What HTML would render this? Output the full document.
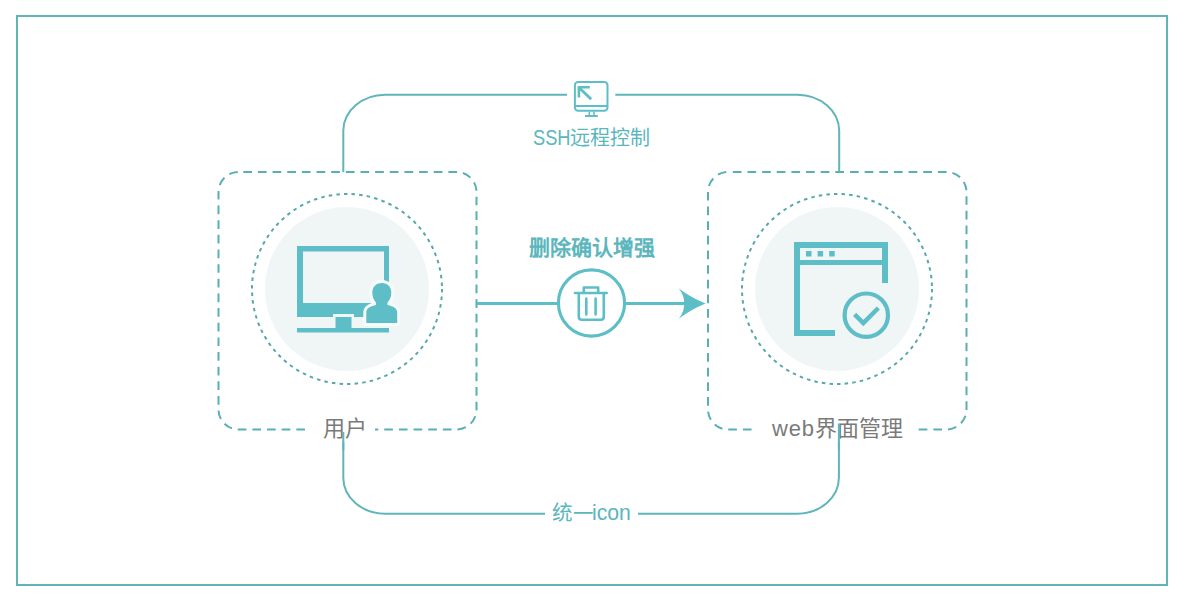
<!DOCTYPE html>
<html lang="zh-CN"><head><meta charset="utf-8">
<style>
html,body{margin:0;padding:0;background:#fff;width:1185px;height:601px;overflow:hidden}
body{font-family:"Liberation Sans",sans-serif}
svg{position:absolute;left:0;top:0}
.t{position:absolute;white-space:nowrap;line-height:1}
</style></head><body>
<svg width="1185" height="601" viewBox="0 0 1185 601">
<g fill="none" stroke="#60b5ba">
  <!-- outer frame -->
  <rect x="17" y="16" width="1150" height="569" stroke-width="2"/>
  <!-- top connector -->
  <path d="M343.3 172 V130.8 A42 36 0 0 1 385.3 94.8 H567" stroke-width="2"/>
  <path d="M615.3 94.8 H797.2 A42 36 0 0 1 839.2 130.8 V172" stroke-width="2"/>
  <!-- bottom connector -->
  <path d="M343.3 439 V477.75 A42 36 0 0 0 385.3 513.75 H545" stroke-width="2"/>
  <path d="M638 513.75 H796.9 A42 36 0 0 0 838.9 477.75 V439" stroke-width="2"/>
  <!-- dashed boxes -->
  <rect x="218.5" y="172" width="258" height="257.5" rx="20" stroke="#5aafb4" stroke-width="2" stroke-dasharray="8.7 5.95" stroke-dashoffset="9.85"/>
  <rect x="708" y="172" width="258.5" height="257.5" rx="20" stroke="#5aafb4" stroke-width="2" stroke-dasharray="8.7 5.95" stroke-dashoffset="9.85"/>
  <!-- dotted circles -->
  <circle cx="347" cy="289" r="95" stroke="#56a8ae" stroke-width="2" stroke-dasharray="3.5 4.153"/>
  <circle cx="837" cy="289" r="95" stroke="#56a8ae" stroke-width="2" stroke-dasharray="3.5 4.153"/>
</g>
<circle cx="347" cy="289" r="82" fill="#f0f6f6"/>
<circle cx="837" cy="289" r="82" fill="#f0f6f6"/>
<!-- middle line and arrow -->
<g stroke="#5dbec8" fill="none">
  <path d="M477 303.5 H558" stroke-width="3"/>
  <path d="M626 303.5 H688" stroke-width="3"/>
  <circle cx="591.5" cy="303" r="33.1" stroke-width="3.1"/>
</g>
<path d="M705.6 303.5 Q691 297.5 678.8 288.4 Q684.8 296 684 303.5 Q684.8 311 678.8 318.6 Q691 309.5 705.6 303.5 Z" fill="#5dbec8"/>
<!-- trash icon -->
<g stroke="#5dbec8" fill="none" stroke-width="2.6" stroke-linecap="round" stroke-linejoin="round">
  <path d="M575 293 H606.7"/>
  <path d="M583.8 292.5 V287.5 H598.2 V292.5"/>
  <path d="M578.8 294 V316.8 Q578.8 319.7 581.7 319.7 H600.9 Q603.8 319.7 603.8 316.8 V294"/>
  <path d="M586.3 298.5 V314.5 M595.6 298.5 V314.5"/>
</g>
<!-- SSH monitor icon -->
<g stroke="#5dbec8" fill="none" stroke-width="2">
  <rect x="574.9" y="82.1" width="32.6" height="28.7" rx="3.2"/>
  <path d="M575 106 H607.5"/>
  <path d="M589.3 111.5 V115 M594 111.5 V115" stroke-width="1.6"/>
  <path d="M585 116 H597.8"/>
  <path d="M578.9 86.2 V97.6 M577.8 87.3 H589.8" stroke-width="2.6"/>
  <path d="M579.5 88 L591.2 99.3" stroke-width="2.8"/>
</g>
<!-- user monitor icon -->
<g fill="#5dbec8">
  <path d="M297 246 H389 V317 H297 Z M303 251.5 V303 H384 V251.5 Z" fill-rule="evenodd"/>
  <rect x="297" y="328" width="92" height="4.5"/>
  <rect x="333" y="314" width="21" height="14" fill="#f0f6f6"/>
  <rect x="335.5" y="317" width="16" height="11"/>
  <!-- person -->
  <g stroke="#f8fbfb" stroke-width="6" stroke-linejoin="round" paint-order="stroke">
    <path d="M381.8 283 C387.5 283 391.3 287 391.3 292.5 C391.3 297 389.5 300.5 387.5 302.5 L387.5 305 C393.5 306.5 397.2 308 397.2 312.5 V323 H366.3 V312.5 C366.3 308 370 306.5 376 305 L376 302.5 C374 300.5 372.3 297 372.3 292.5 C372.3 287 376 283 381.8 283 Z"/>
  </g>
</g>
<!-- browser check icon -->
<g fill="#5dbec8">
  <rect x="794" y="242" width="94" height="6"/>
  <rect x="794" y="242" width="6" height="94"/>
  <rect x="882" y="242" width="6" height="41"/>
  <rect x="794" y="260" width="94" height="5"/>
  <rect x="794" y="330" width="41" height="6"/>
  <rect x="806" y="251" width="5.5" height="5.5"/>
  <rect x="817.6" y="251" width="5.5" height="5.5"/>
  <rect x="829.2" y="251" width="5.5" height="5.5"/>
</g>
<g stroke="#5dbec8" fill="none" stroke-width="4.2">
  <circle cx="866.3" cy="315.2" r="21.7"/>
  <path d="M854.6 314.3 L863.3 323 L878.3 308" stroke-width="4.5" stroke-linecap="butt" stroke-linejoin="miter"/>
</g>
</svg>
<!-- labels -->
<div class="t" style="left:306.5px;top:416px;width:68.5px;height:26px;background:#fff"></div>
<div class="t" style="left:756.5px;top:416px;width:159.5px;height:26px;background:#fff"></div>
<div class="t" style="left:322.5px;top:418.2px;font-size:22px;color:#7a7a7a">用户</div>
<div class="t" style="left:772px;top:418px;font-size:22px;color:#7a7a7a"><span style="letter-spacing:0.8px">web</span>界面管理</div>
<div class="t" style="left:533.2px;top:127.9px;font-size:20px;color:#5cb6bd;transform:scale(0.91,1.09);transform-origin:0 17.2px">SSH</div>
<div class="t" style="left:570.3px;top:128px;font-size:20px;color:#5cb6bd">远程控制</div>
<div class="t" style="left:529px;top:237px;font-size:21px;font-weight:bold;color:#5cb6bd">删除确认增强</div>
<div class="t" style="left:552.3px;top:503px;font-size:20.5px;color:#5cb6bd">统</div>
<div class="t" style="left:573.1px;top:504.3px;font-size:20.5px;color:#5cb6bd">一</div>
<div class="t" style="left:592px;top:501.9px;font-size:21.2px;color:#5cb6bd">icon</div>
<svg width="1185" height="601" viewBox="0 0 1185 601" style="pointer-events:none">
  <path d="M343.3 432 V450" stroke="#60b5ba" stroke-width="2"/>
  <path d="M838.9 423.5 V450" stroke="#60b5ba" stroke-width="2"/>
</svg>
</body></html>
